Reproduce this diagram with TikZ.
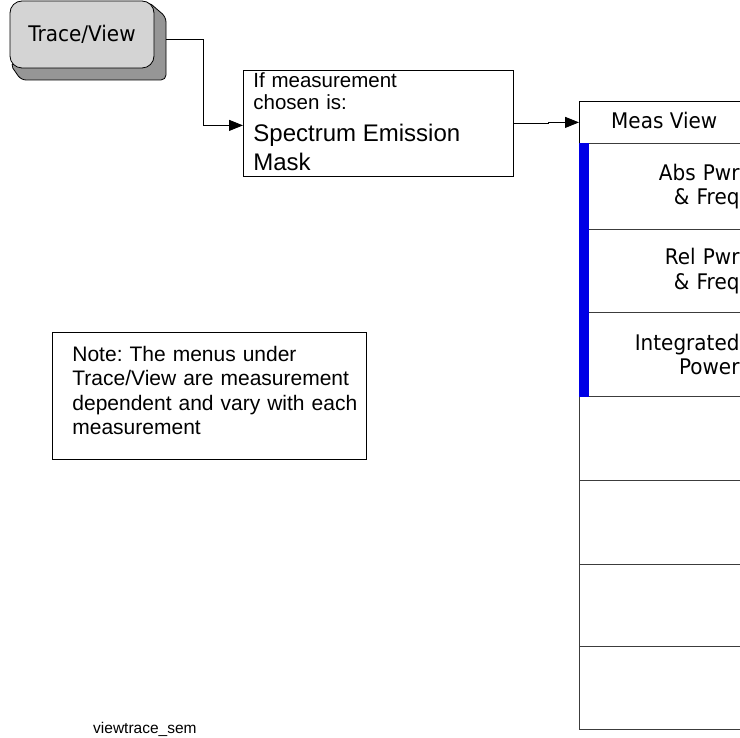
\documentclass[tikz,border=0pt]{standalone}
\usepackage{fontspec}
\setmainfont{Liberation Sans}
\newfontfamily\keyfont[FakeStretch=0.93]{DejaVu Sans}
\usetikzlibrary{arrows.meta}
\definecolor{facegray}{RGB}{212,212,212}
\definecolor{shadegray}{RGB}{150,150,150}
\definecolor{keyblue}{RGB}{0,0,230}
\definecolor{sepgray}{RGB}{60,60,60}
\frenchspacing
\begin{document}
\begin{tikzpicture}[x=1pt,y=-1pt,
  conn/.style={line width=0.8pt, -{Triangle[length=14pt,width=11pt]}},
  plainbox/.style={draw, line width=0.8pt, inner ysep=0pt, anchor=north west},
  keytext/.style={font=\keyfont\fontsize{21.5}{24.5}\selectfont},
  softkey/.style={draw=sepgray, line width=1pt, minimum width=181pt, anchor=north west,
    text width=139pt, align=right, inner xsep=0pt, inner ysep=0pt, keytext},
]
\clip (0,0) rectangle (740,738);
\fill[white] (0,0) rectangle (740,738);
% button
\filldraw[fill=shadegray, line width=0.8pt, rounded corners=5pt]
  (148,1.5) -- (166,17) -- (166,80) -- (21,80) -- (10,64) -- cycle;
\node[draw, line width=0.8pt, fill=facegray, rounded corners=12pt, minimum width=144pt,
  minimum height=67pt, keytext] (btn) at (82,34.5) {Trace/View};
% if box
\node[plainbox, minimum width=270pt, text width=250pt, inner xsep=10pt, align=left,
  text height=17pt, text depth=89pt, font=\fontsize{20.5}{22}\selectfont] (ifbox) at (243,70)
  {If measurement\\chosen is:\\[10pt]\fontsize{24}{22}\selectfont Spectrum Emission\\[6pt]Mask};
% note box
\node[plainbox, minimum width=314pt, text width=274pt, inner xsep=20pt, align=left,
  text height=29pt, text depth=98pt, font=\fontsize{21}{24.5}\selectfont] (note) at (52,332)
  {\mbox{Note: The menus under}\\\mbox{Trace/View are measurement}\\\mbox{dependent and vary with each}\\\mbox{measurement}};
% softkey panel
\node[draw=black, line width=0.8pt, minimum width=181pt, minimum height=42pt, anchor=north west,
  inner sep=0pt] (hdr) at (579,101) {};
\node[anchor=base west, inner sep=0pt, keytext] (hdrtext) at (611,128.5) {Meas View};
\node[softkey, minimum height=86pt] (k1) at (579,143) {Abs Pwr\\\& Freq};
\node[softkey, minimum height=83pt] (k2) at (579,229) {Rel Pwr\\\& Freq};
\node[softkey, minimum height=84pt] (k3) at (579,312) {Integrated\\Power};
\node[softkey, minimum height=84pt] (k4) at (579,396) {};
\node[softkey, minimum height=84pt] (k5) at (579,480) {};
\node[softkey, minimum height=82pt] (k6) at (579,564) {};
\node[softkey, minimum height=83pt] (k7) at (579,646) {};
\fill[keyblue] (k1.north west) rectangle ([xshift=10pt]k3.south west);
% connectors
\coordinate (bout) at (166,39);
\coordinate (ifin) at ([yshift=-2pt]ifbox.west);
\draw[conn] (bout) -- ++(37,0) |- (ifin);
\draw[conn] (ifbox.east) -- ++(35,0) |- (hdr.west);
% file name
\node[anchor=base west, inner sep=0pt, font=\fontsize{15.5}{18}\selectfont] (fname) at (93,733) {viewtrace\_sem};
\end{tikzpicture}
\end{document}
